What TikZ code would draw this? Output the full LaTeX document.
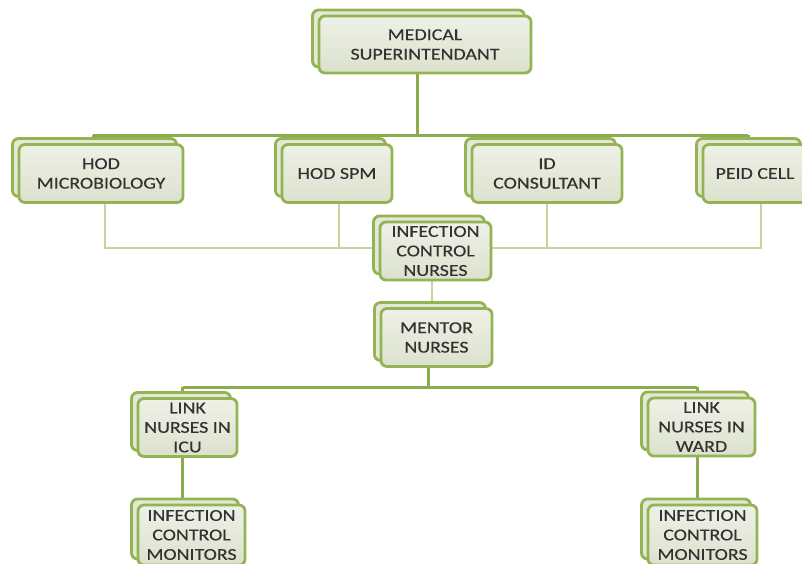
\documentclass[tikz,border=0pt]{standalone}
\usepackage{fontspec}
\setmainfont{Carlito}[FakeStretch=1.2,FakeBold=0.4]
\usetikzlibrary{shadows,backgrounds}
\definecolor{boxline}{RGB}{148,180,84}
\definecolor{boxfill}{RGB}{228,232,216}
\definecolor{boxtop}{RGB}{238,241,230}
\definecolor{boxbot}{RGB}{220,225,206}
\definecolor{thickc}{RGB}{140,170,80}
\definecolor{thinc}{RGB}{196,214,160}
\definecolor{txt}{RGB}{50,50,50}
\tikzset{
 orgbox/.style={rectangle, rounded corners=6pt, draw=boxline, line width=2.8pt, top color=boxtop, bottom color=boxbot, text=txt, align=center, inner sep=1pt, font=\fontsize{16.6}{19.5}\selectfont, minimum height=58pt,
   copy shadow={shadow xshift=-6.5pt, shadow yshift=6pt, fill=boxfill, draw=boxline, line width=2.8pt}},
 thickline/.style={draw=thickc, line width=3pt},
 thinline/.style={draw=thinc, line width=1.5pt},
}
\begin{document}
\begin{tikzpicture}[x=1pt,y=-1pt]
\useasboundingbox (0,0) rectangle (802,563);
\clip (0,0) rectangle (802,563);
\node[orgbox, minimum width=212pt, minimum height=57pt] (ms) at (425,44.5) {MEDICAL\\SUPERINTENDANT};
\node[orgbox, minimum width=164pt] (hodm) at (101,173.5) {HOD\\MICROBIOLOGY};
\node[orgbox, minimum width=110pt] (spm) at (337,173.5) {HOD SPM};
\node[orgbox, minimum width=150pt] (id) at (547,173.5) {ID\\CONSULTANT};
\node[orgbox, minimum width=104pt] (peid) at (755,173.5) {PEID CELL};
\node[orgbox, minimum width=111pt] (icn) at (435.5,251) {INFECTION\\CONTROL\\NURSES};
\node[orgbox, minimum width=111pt] (ment) at (436.5,337.5) {MENTOR\\NURSES};
\node[orgbox, minimum width=99pt] (licu) at (187.5,427.5) {LINK\\NURSES IN\\ICU};
\node[orgbox, minimum width=107pt] (lward) at (701.5,427) {LINK\\NURSES IN\\WARD};
\node[orgbox, minimum width=107pt, minimum height=60pt] (icm1) at (191.5,535) {INFECTION\\CONTROL\\MONITORS};
\node[orgbox, minimum width=109pt, minimum height=60pt] (icm2) at (702.5,535) {INFECTION\\CONTROL\\MONITORS};
\coordinate (b0) at (417,135);
\coordinate (c1) at (435,248);
\coordinate (b1) at (428,387);
\begin{scope}[on background layer]
\draw[thickline] (ms.south -| b0) -- (b0);
\draw[thickline] ([xshift=-8pt]hodm.north |- b0) -- ([xshift=-7pt]peid.north |- b0);
\draw[thickline] ([xshift=-8pt]hodm.north |- b0) -- ([xshift=-8pt]hodm.north);
\draw[thickline] ([xshift=-7pt]spm.north |- b0) -- ([xshift=-7pt]spm.north);
\draw[thickline] ([xshift=-7pt]id.north |- b0) -- ([xshift=-7pt]id.north);
\draw[thickline] ([xshift=-7pt]peid.north |- b0) -- ([xshift=-7pt]peid.north);
\draw[thinline] ([xshift=4pt]hodm.south) |- (c1) -| ([xshift=6pt]peid.south);
\draw[thinline] ([xshift=2pt]spm.south) -- ([xshift=2pt]spm.south |- c1);
\draw[thinline] (id.south) -- (id.south |- c1);
\draw[thinline] (icn.south -| 432,0) -- (ment.north -| 432,0);
\draw[thinline] (icn) -- (c1);
\draw[thickline] (ment.south -| b1) -- (b1);
\draw[thickline] ([xshift=-5pt]licu.north |- b1) -- ([xshift=-4.5pt]lward.north |- b1);
\draw[thickline] ([xshift=-5pt]licu.north |- b1) -- ([xshift=-5pt]licu.north);
\draw[thickline] ([xshift=-4.5pt]lward.north |- b1) -- ([xshift=-4.5pt]lward.north);
\draw[thickline] ([xshift=-5pt]licu.south) -- ([xshift=-5pt]licu.south |- icm1.north);
\draw[thickline] ([xshift=-4.5pt]lward.south) -- ([xshift=-4.5pt]lward.south |- icm2.north);
\end{scope}
\end{tikzpicture}
\end{document}
